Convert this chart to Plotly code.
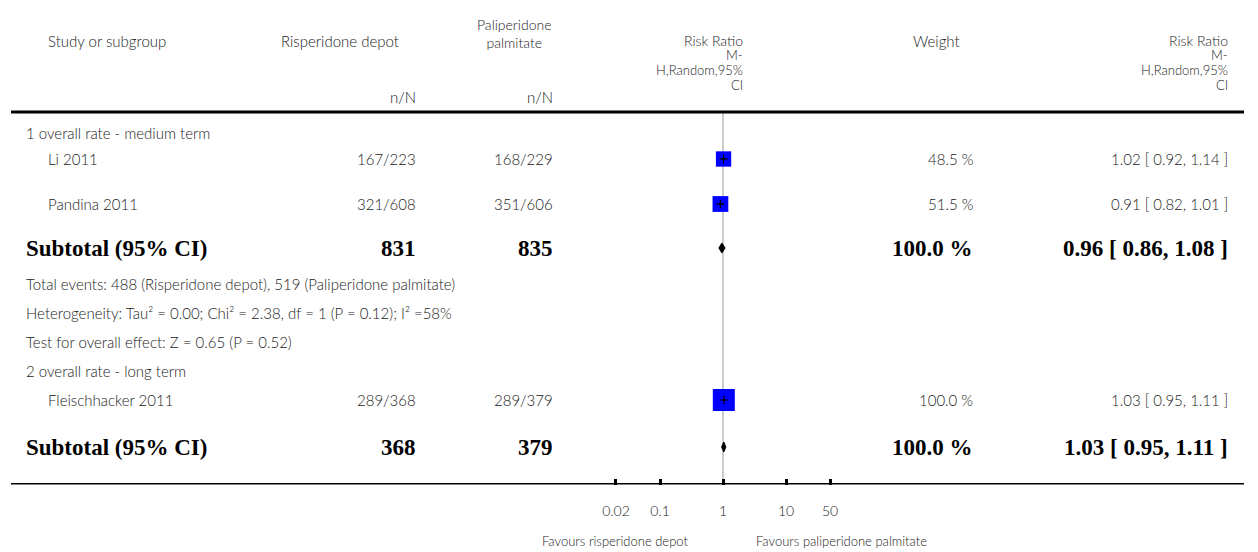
import numpy as np
import plotly.graph_objects as go

# study level data
studies = ["Li 2011", "Pandina 2011", "Fleischhacker 2011"]
risp_events = [167, 321, 289]
risp_total = [223, 608, 368]
pali_events = [168, 351, 289]
pali_total = [229, 606, 379]
study_weight = [48.5, 51.5, 100.0]
study_rr = [1.02, 0.91, 1.03]
study_lo = [0.92, 0.82, 0.95]
study_hi = [1.14, 1.01, 1.11]

# subgroup totals
subgroups = ["1 overall rate - medium term", "2 overall rate - long term"]
sub_risp_total = [831, 368]
sub_pali_total = [835, 379]
sub_weight = [100.0, 100.0]
sub_rr = [0.96, 1.03]
sub_lo = [0.86, 0.95]
sub_hi = [1.08, 1.11]
sub_notes = [
    [
        "Total events: 488 (Risperidone depot), 519 (Paliperidone palmitate)",
        "Heterogeneity: Tau² = 0.00; Chi² = 2.38, df = 1 (P = 0.12); I² =58%",
        "Test for overall effect: Z = 0.65 (P = 0.52)",
    ],
    [],
]

tick_vals = [0.02, 0.1, 1, 10, 50]
tick_text = ["0.02", "0.1", "1", "10", "50"]
favours = ["Favours risperidone depot", "Favours paliperidone palmitate"]

# page geometry (pixels)
W, H = 1258, 552
AXIS_Y = 484.5
HEAD_Y = 112
group_y = [133, 371]
study_y = [159, 204, 400]
sub_y = [248, 447]
note_y = [[284, 313, 342], []]

REG = dict(family="Lato", size=15, color="#222222", weight=300)
MID = dict(family="Lato", size=14, color="#222222", weight=300)
SMALL = dict(family="Lato", size=13, color="#222222", weight=300)
BOLD = dict(family="Liberation Serif", size=23, color="black", weight="bold")

annotations = []


def txt(x, y, s, anchor="left", font=REG, yref="y"):
    annotations.append(dict(x=x / W, xref="paper", y=y, yref=yref, text=s,
                            showarrow=False, xanchor=anchor, yanchor="middle",
                            font=font))


# header
txt(46, 41, "Study or subgroup")
txt(340, 41, "Risperidone depot", "center")
txt(514, 33.5, "Paliperidone<br>palmitate", "center", MID)
txt(418, 97, "n/N", "right")
txt(555, 97, "n/N", "right")
for xr in [745, 1230]:
    txt(xr, 40, "Risk Ratio", "right", MID)
    txt(xr, 55, "M-", "right", SMALL)
    txt(xr, 70, "H,Random,95%", "right", SMALL)
    txt(xr, 85, "CI", "right", SMALL)
txt(936, 41, "Weight", "center")

# rows
for i, s in enumerate(studies):
    y = study_y[i]
    txt(46, y, s)
    txt(418, y, f"{risp_events[i]}/{risp_total[i]}", "right")
    txt(555, y, f"{pali_events[i]}/{pali_total[i]}", "right")
    txt(975, y, f"{study_weight[i]:.1f} %", "right")
    txt(1230, y, f"{study_rr[i]:.2f} [ {study_lo[i]:.2f}, {study_hi[i]:.2f} ]", "right")

for g, name in enumerate(subgroups):
    txt(24, group_y[g], name)
    y = sub_y[g]
    txt(24, y, "Subtotal (95% CI)", font=BOLD)
    txt(418, y, str(sub_risp_total[g]), "right", BOLD)
    txt(555, y, str(sub_pali_total[g]), "right", BOLD)
    txt(975, y, f"{sub_weight[g]:.1f} %", "right", BOLD)
    txt(1230, y, f"{sub_rr[g]:.2f} [ {sub_lo[g]:.2f}, {sub_hi[g]:.2f} ]", "right", BOLD)
    for note, ny in zip(sub_notes[g], note_y[g]):
        txt(24, ny, note)

# favours labels (below the axis, so in paper units)
txt(690, (H - 541) / H, favours[0], "right", SMALL, "paper")
txt(754, (H - 541) / H, favours[1], "left", SMALL, "paper")

traces = []

# weight squares
traces.append(go.Scatter(
    x=study_rr, y=study_y, mode="markers",
    marker=dict(symbol="square", color="#0000ff", opacity=1,
                size=[22 * np.sqrt(w / 100) for w in study_weight], line_width=0),
    showlegend=False))

# CI lines and point estimates
for i in range(len(studies)):
    traces.append(go.Scatter(x=[study_lo[i], study_hi[i]], y=[study_y[i]] * 2,
                             mode="lines", line=dict(color="black", width=1),
                             showlegend=False, hoverinfo="skip"))
traces.append(go.Scatter(
    x=study_rr, y=study_y, mode="markers",
    marker=dict(symbol="cross-thin", size=6, line=dict(color="black", width=1.2)),
    showlegend=False))

# subtotal diamonds
for g in range(len(subgroups)):
    y = sub_y[g]
    traces.append(go.Scatter(
        x=[sub_lo[g], sub_rr[g], sub_hi[g], sub_rr[g], sub_lo[g]],
        y=[y, y - 5, y, y + 5, y], mode="lines", fill="toself",
        fillcolor="black", line=dict(color="black", width=1),
        showlegend=False))

fig = go.Figure(data=traces)

shapes = [
    dict(type="line", xref="paper", yref="y", x0=11 / W, x1=1244 / W,
         y0=HEAD_Y, y1=HEAD_Y, line=dict(color="black", width=3)),
    dict(type="line", xref="paper", yref="y", x0=11 / W, x1=1244 / W,
         y0=AXIS_Y, y1=AXIS_Y, line=dict(color="black", width=3)),
    dict(type="line", xref="x", yref="y", x0=1, x1=1, y0=HEAD_Y, y1=AXIS_Y,
         line=dict(color="#999999", width=1), layer="below"),
]

fig.update_layout(
    width=W, height=H,
    margin=dict(l=0, r=0, t=0, b=0),
    paper_bgcolor="white", plot_bgcolor="white",
    showlegend=False,
    xaxis=dict(type="log", range=[-2, 2], domain=[597 / W, 849 / W],
               tickvals=tick_vals, ticktext=tick_text,
               ticks="inside", ticklen=6, tickwidth=3, tickcolor="black",
               showgrid=False, zeroline=False, showline=False,
               tickfont=dict(family="Lato", size=14, color="#222222", weight=300),
               ticklabelstandoff=16),
    yaxis=dict(range=[AXIS_Y, 0], domain=[(H - AXIS_Y) / H, 1], visible=False),
    annotations=annotations,
    shapes=shapes,
)

# drop the browser's default body margin so the figure sits at the page corner
fig.write_html("out.html", config={"displayModeBar": False},
               post_script="document.body.style.margin='0';")
